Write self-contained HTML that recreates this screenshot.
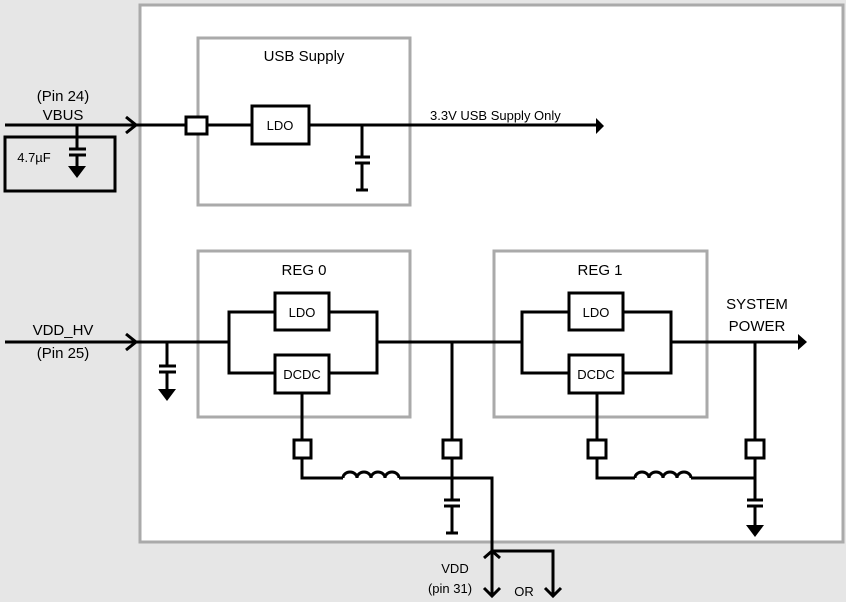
<!DOCTYPE html>
<html><head><meta charset="utf-8"><style>
html,body{margin:0;padding:0;background:#e6e6e6;}
svg{display:block;}
text{font-family:"Liberation Sans",sans-serif;fill:#000;}
</style></head><body>
<svg width="846" height="602" viewBox="0 0 846 602" xmlns="http://www.w3.org/2000/svg">
<rect x="0" y="0" width="846" height="602" fill="#e6e6e6"/>
<rect x="140" y="5" width="703" height="537" fill="#fff" stroke="#aaa" stroke-width="3"/>
<g fill="none" stroke="#aaa" stroke-width="3">
<rect x="198" y="38" width="212" height="167"/>
<rect x="198" y="251" width="212" height="166"/>
<rect x="494" y="251" width="213" height="166"/>
</g>
<g fill="none" stroke="#000" stroke-width="3">
<line x1="5" y1="125" x2="186" y2="125"/>
<polyline points="126,117 136,125 126,133"/>
<rect x="186" y="117" width="21" height="17" fill="#fff"/>
<line x1="207" y1="125" x2="252" y2="125"/>
<rect x="252" y="106" width="57" height="38" fill="#fff"/>
<line x1="309" y1="125" x2="596" y2="125"/>
<line x1="362" y1="125" x2="362" y2="157"/>
<line x1="355" y1="157" x2="370" y2="157"/>
<line x1="355" y1="163" x2="370" y2="163"/>
<line x1="362" y1="163" x2="362" y2="190"/>
<line x1="356" y1="190" x2="368" y2="190"/>
<rect x="5" y="137" width="110" height="54"/>
<line x1="77" y1="125" x2="77" y2="149"/>
<line x1="69" y1="149" x2="86" y2="149"/>
<line x1="69" y1="155" x2="86" y2="155"/>
<line x1="77" y1="155" x2="77" y2="168"/>
<line x1="5" y1="342" x2="229" y2="342"/>
<polyline points="126,334 136,342 126,350"/>
<line x1="167" y1="342" x2="167" y2="366"/>
<line x1="159" y1="366" x2="176" y2="366"/>
<line x1="159" y1="372" x2="176" y2="372"/>
<line x1="167" y1="372" x2="167" y2="390"/>
<polyline points="275,312 229,312 229,373 275,373"/>
<polyline points="329,312 377,312 377,373 329,373"/>
<rect x="275" y="293" width="54" height="37" fill="#fff"/>
<rect x="275" y="355" width="54" height="38" fill="#fff"/>
<line x1="377" y1="342" x2="522" y2="342"/>
<polyline points="569,312 522,312 522,373 569,373"/>
<polyline points="623,312 671,312 671,373 623,373"/>
<rect x="569" y="293" width="54" height="37" fill="#fff"/>
<rect x="569" y="355" width="54" height="38" fill="#fff"/>
<line x1="671" y1="342" x2="798" y2="342"/>
<line x1="302" y1="393" x2="302" y2="440"/>
<rect x="294" y="440" width="17" height="18" fill="#fff"/>
<polyline points="302,458 302,478 343,478"/>
<path d="M343,478 a7,6 0 0 1 14,0 a7,6 0 0 1 14,0 a7,6 0 0 1 14,0 a7,6 0 0 1 14,0"/>
<polyline points="399,478 492,478 492,596"/>
<line x1="452" y1="342" x2="452" y2="440"/>
<rect x="443" y="440" width="18" height="18" fill="#fff"/>
<line x1="452" y1="458" x2="452" y2="500"/>
<line x1="444" y1="500" x2="460" y2="500"/>
<line x1="444" y1="506" x2="460" y2="506"/>
<line x1="452" y1="506" x2="452" y2="533"/>
<line x1="446" y1="533" x2="458" y2="533"/>
<polyline points="484,558 492,551 500,558"/>
<polyline points="484,588 492,596 500,588"/>
<polyline points="492,551 553,551 553,596"/>
<polyline points="545,588 553,596 561,588"/>
<line x1="597" y1="393" x2="597" y2="440"/>
<rect x="588" y="440" width="18" height="18" fill="#fff"/>
<polyline points="597,458 597,478 635,478"/>
<path d="M635,478 a7,6 0 0 1 14,0 a7,6 0 0 1 14,0 a7,6 0 0 1 14,0 a7,6 0 0 1 14,0"/>
<line x1="691" y1="478" x2="755" y2="478"/>
<line x1="755" y1="342" x2="755" y2="440"/>
<rect x="746" y="440" width="18" height="18" fill="#fff"/>
<line x1="755" y1="458" x2="755" y2="500"/>
<line x1="747" y1="500" x2="763" y2="500"/>
<line x1="747" y1="506" x2="763" y2="506"/>
<line x1="755" y1="506" x2="755" y2="526"/>
</g>
<g fill="#000">
<polygon points="596,118 604,126 596,134"/>
<polygon points="798,334 807,342 798,350"/>
<polygon points="68,166 86,166 77,178"/>
<polygon points="158,389 176,389 167,401"/>
<polygon points="746,525 764,525 755,537"/>
</g>
<g font-size="15" text-anchor="middle">
<text x="304" y="61">USB Supply</text>
<text x="304" y="275">REG 0</text>
<text x="600" y="275">REG 1</text>
<text x="63" y="101">(Pin 24)</text>
<text x="63" y="120">VBUS</text>
<text x="63" y="335">VDD_HV</text>
<text x="63" y="358">(Pin 25)</text>
<text x="757" y="309">SYSTEM</text>
<text x="757" y="331">POWER</text>
<text font-size="13" x="280" y="130">LDO</text>
<text font-size="13" x="302" y="317">LDO</text>
<text font-size="13" x="302" y="379">DCDC</text>
<text font-size="13" x="596" y="317">LDO</text>
<text font-size="13" x="596" y="379">DCDC</text>
<text font-size="13" x="455" y="573">VDD</text>
<text font-size="13" x="450" y="593">(pin 31)</text>
<text font-size="13" x="524" y="596">OR</text>
<text font-size="13" x="34" y="162">4.7µF</text>
</g>
<text x="430" y="120" font-size="13">3.3V USB Supply Only</text>
</svg>
</body></html>
